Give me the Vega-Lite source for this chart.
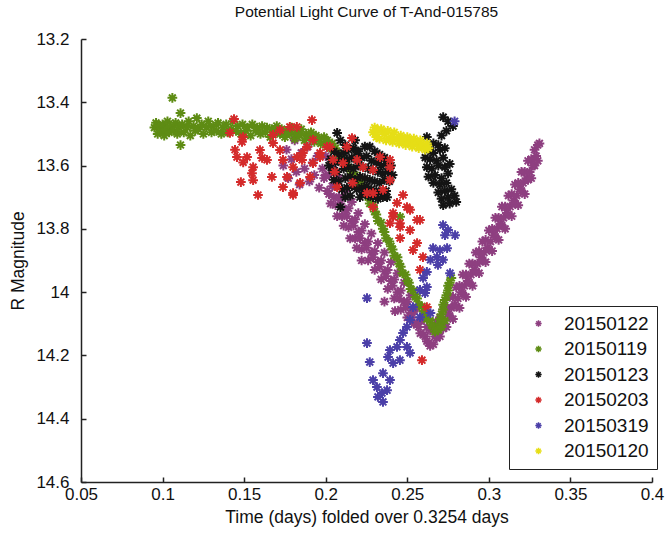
{
  "$schema": "https://vega.github.io/schema/vega-lite/v6.json",
  "width": 571,
  "height": 443,
  "autosize": {"type": "none"},
  "padding": {"left": 81, "top": 39, "right": 16, "bottom": 60},
  "background": "white",
  "title": {
    "text": "Potential Light Curve of T-And-015785",
    "fontSize": 15.5,
    "fontWeight": "normal",
    "font": "Liberation Sans",
    "color": "#111",
    "offset": 10
  },
  "config": {
    "view": {"stroke": null},
    "font": "Liberation Sans",
    "axis": {
      "grid": false,
      "domainColor": "#222",
      "domainWidth": 1.5,
      "tickColor": "#222",
      "tickWidth": 1.5,
      "tickSize": -5,
      "labelColor": "#111",
      "labelFontSize": 17,
      "labelFlush": false,
      "labelOverlap": false,
      "titleColor": "#111",
      "titleFontSize": 17.5,
      "titleFontWeight": "normal"
    }
  },
  "data": {
    "values": [
      {"night": "20150122", "t": 0.174, "mag": 13.60},
      {"night": "20150122", "t": 0.176, "mag": 13.55},
      {"night": "20150122", "t": 0.177, "mag": 13.64},
      {"night": "20150122", "t": 0.179, "mag": 13.58},
      {"night": "20150122", "t": 0.181, "mag": 13.52},
      {"night": "20150122", "t": 0.182, "mag": 13.62},
      {"night": "20150122", "t": 0.184, "mag": 13.66},
      {"night": "20150122", "t": 0.185, "mag": 13.56},
      {"night": "20150122", "t": 0.187, "mag": 13.61},
      {"night": "20150122", "t": 0.189, "mag": 13.54},
      {"night": "20150122", "t": 0.190, "mag": 13.65},
      {"night": "20150122", "t": 0.192, "mag": 13.59},
      {"night": "20150122", "t": 0.193, "mag": 13.63},
      {"night": "20150122", "t": 0.195, "mag": 13.57},
      {"night": "20150122", "t": 0.196, "mag": 13.67},
      {"night": "20150122", "t": 0.198, "mag": 13.61},
      {"night": "20150122", "t": 0.199, "mag": 13.64},
      {"night": "20150122", "t": 0.200, "mag": 13.57},
      {"night": "20150122", "t": 0.200, "mag": 13.63},
      {"night": "20150122", "t": 0.201, "mag": 13.68},
      {"night": "20150122", "t": 0.202, "mag": 13.63},
      {"night": "20150122", "t": 0.202, "mag": 13.69},
      {"night": "20150122", "t": 0.203, "mag": 13.72},
      {"night": "20150122", "t": 0.204, "mag": 13.605},
      {"night": "20150122", "t": 0.204, "mag": 13.665},
      {"night": "20150122", "t": 0.205, "mag": 13.70},
      {"night": "20150122", "t": 0.206, "mag": 13.665},
      {"night": "20150122", "t": 0.206, "mag": 13.725},
      {"night": "20150122", "t": 0.207, "mag": 13.76},
      {"night": "20150122", "t": 0.208, "mag": 13.64},
      {"night": "20150122", "t": 0.208, "mag": 13.70},
      {"night": "20150122", "t": 0.209, "mag": 13.72},
      {"night": "20150122", "t": 0.210, "mag": 13.70},
      {"night": "20150122", "t": 0.210, "mag": 13.76},
      {"night": "20150122", "t": 0.211, "mag": 13.79},
      {"night": "20150122", "t": 0.212, "mag": 13.68},
      {"night": "20150122", "t": 0.212, "mag": 13.74},
      {"night": "20150122", "t": 0.213, "mag": 13.76},
      {"night": "20150122", "t": 0.214, "mag": 13.735},
      {"night": "20150122", "t": 0.214, "mag": 13.795},
      {"night": "20150122", "t": 0.215, "mag": 13.83},
      {"night": "20150122", "t": 0.216, "mag": 13.715},
      {"night": "20150122", "t": 0.216, "mag": 13.775},
      {"night": "20150122", "t": 0.217, "mag": 13.79},
      {"night": "20150122", "t": 0.218, "mag": 13.77},
      {"night": "20150122", "t": 0.218, "mag": 13.83},
      {"night": "20150122", "t": 0.219, "mag": 13.86},
      {"night": "20150122", "t": 0.220, "mag": 13.75},
      {"night": "20150122", "t": 0.220, "mag": 13.81},
      {"night": "20150122", "t": 0.221, "mag": 13.83},
      {"night": "20150122", "t": 0.222, "mag": 13.805},
      {"night": "20150122", "t": 0.222, "mag": 13.865},
      {"night": "20150122", "t": 0.222, "mag": 13.90},
      {"night": "20150122", "t": 0.224, "mag": 13.785},
      {"night": "20150122", "t": 0.224, "mag": 13.845},
      {"night": "20150122", "t": 0.225, "mag": 13.86},
      {"night": "20150122", "t": 0.226, "mag": 13.84},
      {"night": "20150122", "t": 0.226, "mag": 13.90},
      {"night": "20150122", "t": 0.228, "mag": 13.815},
      {"night": "20150122", "t": 0.228, "mag": 13.875},
      {"night": "20150122", "t": 0.229, "mag": 13.89},
      {"night": "20150122", "t": 0.230, "mag": 13.87},
      {"night": "20150122", "t": 0.230, "mag": 13.93},
      {"night": "20150122", "t": 0.232, "mag": 13.845},
      {"night": "20150122", "t": 0.232, "mag": 13.905},
      {"night": "20150122", "t": 0.233, "mag": 13.92},
      {"night": "20150122", "t": 0.234, "mag": 13.90},
      {"night": "20150122", "t": 0.234, "mag": 13.96},
      {"night": "20150122", "t": 0.236, "mag": 13.875},
      {"night": "20150122", "t": 0.236, "mag": 13.935},
      {"night": "20150122", "t": 0.236, "mag": 14.03},
      {"night": "20150122", "t": 0.237, "mag": 13.95},
      {"night": "20150122", "t": 0.238, "mag": 13.93},
      {"night": "20150122", "t": 0.238, "mag": 13.99},
      {"night": "20150122", "t": 0.240, "mag": 13.905},
      {"night": "20150122", "t": 0.240, "mag": 13.965},
      {"night": "20150122", "t": 0.241, "mag": 13.98},
      {"night": "20150122", "t": 0.242, "mag": 13.96},
      {"night": "20150122", "t": 0.242, "mag": 14.02},
      {"night": "20150122", "t": 0.2425, "mag": 14.06},
      {"night": "20150122", "t": 0.244, "mag": 13.94},
      {"night": "20150122", "t": 0.244, "mag": 14.00},
      {"night": "20150122", "t": 0.245, "mag": 14.02},
      {"night": "20150122", "t": 0.246, "mag": 13.995},
      {"night": "20150122", "t": 0.246, "mag": 14.055},
      {"night": "20150122", "t": 0.248, "mag": 13.97},
      {"night": "20150122", "t": 0.248, "mag": 14.03},
      {"night": "20150122", "t": 0.249, "mag": 14.05},
      {"night": "20150122", "t": 0.250, "mag": 14.03},
      {"night": "20150122", "t": 0.250, "mag": 14.08},
      {"night": "20150122", "t": 0.252, "mag": 14.01},
      {"night": "20150122", "t": 0.252, "mag": 14.065},
      {"night": "20150122", "t": 0.253, "mag": 14.08},
      {"night": "20150122", "t": 0.254, "mag": 14.06},
      {"night": "20150122", "t": 0.254, "mag": 14.10},
      {"night": "20150122", "t": 0.256, "mag": 14.05},
      {"night": "20150122", "t": 0.256, "mag": 14.10},
      {"night": "20150122", "t": 0.257, "mag": 14.11},
      {"night": "20150122", "t": 0.258, "mag": 14.09},
      {"night": "20150122", "t": 0.258, "mag": 14.13},
      {"night": "20150122", "t": 0.260, "mag": 14.085},
      {"night": "20150122", "t": 0.260, "mag": 14.135},
      {"night": "20150122", "t": 0.261, "mag": 14.14},
      {"night": "20150122", "t": 0.262, "mag": 14.11},
      {"night": "20150122", "t": 0.262, "mag": 14.155},
      {"night": "20150122", "t": 0.263, "mag": 14.16},
      {"night": "20150122", "t": 0.264, "mag": 14.12},
      {"night": "20150122", "t": 0.264, "mag": 14.17},
      {"night": "20150122", "t": 0.266, "mag": 14.12},
      {"night": "20150122", "t": 0.266, "mag": 14.165},
      {"night": "20150122", "t": 0.267, "mag": 14.14},
      {"night": "20150122", "t": 0.268, "mag": 14.095},
      {"night": "20150122", "t": 0.268, "mag": 14.145},
      {"night": "20150122", "t": 0.269, "mag": 14.12},
      {"night": "20150122", "t": 0.270, "mag": 14.08},
      {"night": "20150122", "t": 0.270, "mag": 14.14},
      {"night": "20150122", "t": 0.271, "mag": 14.105},
      {"night": "20150122", "t": 0.272, "mag": 14.055},
      {"night": "20150122", "t": 0.272, "mag": 14.115},
      {"night": "20150122", "t": 0.273, "mag": 14.09},
      {"night": "20150122", "t": 0.274, "mag": 14.05},
      {"night": "20150122", "t": 0.274, "mag": 14.11},
      {"night": "20150122", "t": 0.275, "mag": 14.07},
      {"night": "20150122", "t": 0.276, "mag": 14.015},
      {"night": "20150122", "t": 0.276, "mag": 14.075},
      {"night": "20150122", "t": 0.277, "mag": 14.05},
      {"night": "20150122", "t": 0.278, "mag": 14.015},
      {"night": "20150122", "t": 0.278, "mag": 14.085},
      {"night": "20150122", "t": 0.279, "mag": 14.04},
      {"night": "20150122", "t": 0.280, "mag": 13.985},
      {"night": "20150122", "t": 0.280, "mag": 14.045},
      {"night": "20150122", "t": 0.281, "mag": 14.02},
      {"night": "20150122", "t": 0.282, "mag": 13.98},
      {"night": "20150122", "t": 0.282, "mag": 14.05},
      {"night": "20150122", "t": 0.283, "mag": 14.00},
      {"night": "20150122", "t": 0.284, "mag": 13.945},
      {"night": "20150122", "t": 0.284, "mag": 14.005},
      {"night": "20150122", "t": 0.285, "mag": 13.98},
      {"night": "20150122", "t": 0.286, "mag": 13.945},
      {"night": "20150122", "t": 0.286, "mag": 14.015},
      {"night": "20150122", "t": 0.287, "mag": 13.965},
      {"night": "20150122", "t": 0.288, "mag": 13.91},
      {"night": "20150122", "t": 0.288, "mag": 13.97},
      {"night": "20150122", "t": 0.289, "mag": 13.945},
      {"night": "20150122", "t": 0.290, "mag": 13.91},
      {"night": "20150122", "t": 0.290, "mag": 13.98},
      {"night": "20150122", "t": 0.291, "mag": 13.93},
      {"night": "20150122", "t": 0.292, "mag": 13.875},
      {"night": "20150122", "t": 0.292, "mag": 13.935},
      {"night": "20150122", "t": 0.293, "mag": 13.91},
      {"night": "20150122", "t": 0.294, "mag": 13.87},
      {"night": "20150122", "t": 0.294, "mag": 13.94},
      {"night": "20150122", "t": 0.295, "mag": 13.89},
      {"night": "20150122", "t": 0.296, "mag": 13.84},
      {"night": "20150122", "t": 0.296, "mag": 13.90},
      {"night": "20150122", "t": 0.297, "mag": 13.875},
      {"night": "20150122", "t": 0.298, "mag": 13.835},
      {"night": "20150122", "t": 0.298, "mag": 13.905},
      {"night": "20150122", "t": 0.299, "mag": 13.86},
      {"night": "20150122", "t": 0.300, "mag": 13.805},
      {"night": "20150122", "t": 0.300, "mag": 13.865},
      {"night": "20150122", "t": 0.301, "mag": 13.84},
      {"night": "20150122", "t": 0.302, "mag": 13.80},
      {"night": "20150122", "t": 0.302, "mag": 13.87},
      {"night": "20150122", "t": 0.303, "mag": 13.82},
      {"night": "20150122", "t": 0.304, "mag": 13.765},
      {"night": "20150122", "t": 0.304, "mag": 13.825},
      {"night": "20150122", "t": 0.305, "mag": 13.80},
      {"night": "20150122", "t": 0.306, "mag": 13.765},
      {"night": "20150122", "t": 0.306, "mag": 13.835},
      {"night": "20150122", "t": 0.307, "mag": 13.785},
      {"night": "20150122", "t": 0.308, "mag": 13.73},
      {"night": "20150122", "t": 0.308, "mag": 13.79},
      {"night": "20150122", "t": 0.309, "mag": 13.765},
      {"night": "20150122", "t": 0.310, "mag": 13.73},
      {"night": "20150122", "t": 0.310, "mag": 13.80},
      {"night": "20150122", "t": 0.311, "mag": 13.75},
      {"night": "20150122", "t": 0.312, "mag": 13.695},
      {"night": "20150122", "t": 0.312, "mag": 13.755},
      {"night": "20150122", "t": 0.313, "mag": 13.73},
      {"night": "20150122", "t": 0.314, "mag": 13.69},
      {"night": "20150122", "t": 0.314, "mag": 13.76},
      {"night": "20150122", "t": 0.315, "mag": 13.71},
      {"night": "20150122", "t": 0.316, "mag": 13.66},
      {"night": "20150122", "t": 0.316, "mag": 13.72},
      {"night": "20150122", "t": 0.317, "mag": 13.695},
      {"night": "20150122", "t": 0.318, "mag": 13.655},
      {"night": "20150122", "t": 0.318, "mag": 13.725},
      {"night": "20150122", "t": 0.319, "mag": 13.675},
      {"night": "20150122", "t": 0.320, "mag": 13.62},
      {"night": "20150122", "t": 0.320, "mag": 13.68},
      {"night": "20150122", "t": 0.321, "mag": 13.655},
      {"night": "20150122", "t": 0.322, "mag": 13.62},
      {"night": "20150122", "t": 0.322, "mag": 13.69},
      {"night": "20150122", "t": 0.323, "mag": 13.64},
      {"night": "20150122", "t": 0.324, "mag": 13.585},
      {"night": "20150122", "t": 0.324, "mag": 13.645},
      {"night": "20150122", "t": 0.325, "mag": 13.62},
      {"night": "20150122", "t": 0.326, "mag": 13.58},
      {"night": "20150122", "t": 0.326, "mag": 13.64},
      {"night": "20150122", "t": 0.327, "mag": 13.60},
      {"night": "20150122", "t": 0.328, "mag": 13.55},
      {"night": "20150122", "t": 0.328, "mag": 13.60},
      {"night": "20150122", "t": 0.329, "mag": 13.57},
      {"night": "20150122", "t": 0.330, "mag": 13.535},
      {"night": "20150122", "t": 0.330, "mag": 13.585},
      {"night": "20150122", "t": 0.331, "mag": 13.53},

      {"night": "20150119", "t": 0.095, "mag": 13.48},
      {"night": "20150119", "t": 0.096, "mag": 13.465},
      {"night": "20150119", "t": 0.097, "mag": 13.50},
      {"night": "20150119", "t": 0.098, "mag": 13.475},
      {"night": "20150119", "t": 0.099, "mag": 13.49},
      {"night": "20150119", "t": 0.100, "mag": 13.47},
      {"night": "20150119", "t": 0.101, "mag": 13.505},
      {"night": "20150119", "t": 0.102, "mag": 13.485},
      {"night": "20150119", "t": 0.103, "mag": 13.46},
      {"night": "20150119", "t": 0.104, "mag": 13.495},
      {"night": "20150119", "t": 0.105, "mag": 13.475},
      {"night": "20150119", "t": 0.106, "mag": 13.386},
      {"night": "20150119", "t": 0.107, "mag": 13.49},
      {"night": "20150119", "t": 0.108, "mag": 13.465},
      {"night": "20150119", "t": 0.109, "mag": 13.50},
      {"night": "20150119", "t": 0.110, "mag": 13.48},
      {"night": "20150119", "t": 0.111, "mag": 13.434},
      {"night": "20150119", "t": 0.111, "mag": 13.535},
      {"night": "20150119", "t": 0.112, "mag": 13.47},
      {"night": "20150119", "t": 0.113, "mag": 13.495},
      {"night": "20150119", "t": 0.115, "mag": 13.48},
      {"night": "20150119", "t": 0.116, "mag": 13.46},
      {"night": "20150119", "t": 0.117, "mag": 13.505},
      {"night": "20150119", "t": 0.119, "mag": 13.475},
      {"night": "20150119", "t": 0.120, "mag": 13.49},
      {"night": "20150119", "t": 0.121, "mag": 13.45},
      {"night": "20150119", "t": 0.122, "mag": 13.485},
      {"night": "20150119", "t": 0.124, "mag": 13.47},
      {"night": "20150119", "t": 0.125, "mag": 13.50},
      {"night": "20150119", "t": 0.127, "mag": 13.48},
      {"night": "20150119", "t": 0.128, "mag": 13.46},
      {"night": "20150119", "t": 0.130, "mag": 13.495},
      {"night": "20150119", "t": 0.131, "mag": 13.475},
      {"night": "20150119", "t": 0.133, "mag": 13.49},
      {"night": "20150119", "t": 0.134, "mag": 13.465},
      {"night": "20150119", "t": 0.136, "mag": 13.50},
      {"night": "20150119", "t": 0.137, "mag": 13.48},
      {"night": "20150119", "t": 0.139, "mag": 13.47},
      {"night": "20150119", "t": 0.140, "mag": 13.495},
      {"night": "20150119", "t": 0.142, "mag": 13.485},
      {"night": "20150119", "t": 0.143, "mag": 13.46},
      {"night": "20150119", "t": 0.145, "mag": 13.49},
      {"night": "20150119", "t": 0.146, "mag": 13.475},
      {"night": "20150119", "t": 0.148, "mag": 13.50},
      {"night": "20150119", "t": 0.149, "mag": 13.47},
      {"night": "20150119", "t": 0.151, "mag": 13.49},
      {"night": "20150119", "t": 0.152, "mag": 13.48},
      {"night": "20150119", "t": 0.154, "mag": 13.505},
      {"night": "20150119", "t": 0.155, "mag": 13.47},
      {"night": "20150119", "t": 0.157, "mag": 13.49},
      {"night": "20150119", "t": 0.158, "mag": 13.48},
      {"night": "20150119", "t": 0.160, "mag": 13.50},
      {"night": "20150119", "t": 0.161, "mag": 13.475},
      {"night": "20150119", "t": 0.163, "mag": 13.495},
      {"night": "20150119", "t": 0.164, "mag": 13.48},
      {"night": "20150119", "t": 0.166, "mag": 13.51},
      {"night": "20150119", "t": 0.167, "mag": 13.485},
      {"night": "20150119", "t": 0.169, "mag": 13.495},
      {"night": "20150119", "t": 0.170, "mag": 13.475},
      {"night": "20150119", "t": 0.172, "mag": 13.50},
      {"night": "20150119", "t": 0.173, "mag": 13.485},
      {"night": "20150119", "t": 0.175, "mag": 13.51},
      {"night": "20150119", "t": 0.176, "mag": 13.49},
      {"night": "20150119", "t": 0.178, "mag": 13.50},
      {"night": "20150119", "t": 0.179, "mag": 13.48},
      {"night": "20150119", "t": 0.181, "mag": 13.515},
      {"night": "20150119", "t": 0.182, "mag": 13.495},
      {"night": "20150119", "t": 0.184, "mag": 13.505},
      {"night": "20150119", "t": 0.185, "mag": 13.485},
      {"night": "20150119", "t": 0.187, "mag": 13.52},
      {"night": "20150119", "t": 0.188, "mag": 13.50},
      {"night": "20150119", "t": 0.190, "mag": 13.51},
      {"night": "20150119", "t": 0.191, "mag": 13.495},
      {"night": "20150119", "t": 0.193, "mag": 13.525},
      {"night": "20150119", "t": 0.194, "mag": 13.505},
      {"night": "20150119", "t": 0.196, "mag": 13.515},
      {"night": "20150119", "t": 0.197, "mag": 13.53},
      {"night": "20150119", "t": 0.199, "mag": 13.51},
      {"night": "20150119", "t": 0.200, "mag": 13.535},
      {"night": "20150119", "t": 0.201, "mag": 13.52},
      {"night": "20150119", "t": 0.203, "mag": 13.545},
      {"night": "20150119", "t": 0.204, "mag": 13.53},
      {"night": "20150119", "t": 0.206, "mag": 13.545},
      {"night": "20150119", "t": 0.207, "mag": 13.56},
      {"night": "20150119", "t": 0.209, "mag": 13.57},
      {"night": "20150119", "t": 0.210, "mag": 13.585},
      {"night": "20150119", "t": 0.212, "mag": 13.59},
      {"night": "20150119", "t": 0.213, "mag": 13.605},
      {"night": "20150119", "t": 0.215, "mag": 13.61},
      {"night": "20150119", "t": 0.216, "mag": 13.625},
      {"night": "20150119", "t": 0.218, "mag": 13.63},
      {"night": "20150119", "t": 0.219, "mag": 13.645},
      {"night": "20150119", "t": 0.221, "mag": 13.65},
      {"night": "20150119", "t": 0.222, "mag": 13.665},
      {"night": "20150119", "t": 0.224, "mag": 13.675},
      {"night": "20150119", "t": 0.225, "mag": 13.69},
      {"night": "20150119", "t": 0.226, "mag": 13.70},
      {"night": "20150119", "t": 0.227, "mag": 13.72},
      {"night": "20150119", "t": 0.229, "mag": 13.725},
      {"night": "20150119", "t": 0.230, "mag": 13.745},
      {"night": "20150119", "t": 0.231, "mag": 13.755},
      {"night": "20150119", "t": 0.232, "mag": 13.775},
      {"night": "20150119", "t": 0.234, "mag": 13.78},
      {"night": "20150119", "t": 0.235, "mag": 13.80},
      {"night": "20150119", "t": 0.236, "mag": 13.81},
      {"night": "20150119", "t": 0.237, "mag": 13.83},
      {"night": "20150119", "t": 0.239, "mag": 13.84},
      {"night": "20150119", "t": 0.240, "mag": 13.855},
      {"night": "20150119", "t": 0.241, "mag": 13.865},
      {"night": "20150119", "t": 0.242, "mag": 13.885},
      {"night": "20150119", "t": 0.244, "mag": 13.89},
      {"night": "20150119", "t": 0.245, "mag": 13.91},
      {"night": "20150119", "t": 0.2456, "mag": 13.762},
      {"night": "20150119", "t": 0.246, "mag": 13.92},
      {"night": "20150119", "t": 0.247, "mag": 13.94},
      {"night": "20150119", "t": 0.249, "mag": 13.945},
      {"night": "20150119", "t": 0.250, "mag": 13.965},
      {"night": "20150119", "t": 0.251, "mag": 13.97},
      {"night": "20150119", "t": 0.252, "mag": 13.99},
      {"night": "20150119", "t": 0.254, "mag": 13.995},
      {"night": "20150119", "t": 0.255, "mag": 14.015},
      {"night": "20150119", "t": 0.256, "mag": 14.02},
      {"night": "20150119", "t": 0.257, "mag": 14.04},
      {"night": "20150119", "t": 0.259, "mag": 14.045},
      {"night": "20150119", "t": 0.260, "mag": 14.06},
      {"night": "20150119", "t": 0.261, "mag": 14.07},
      {"night": "20150119", "t": 0.262, "mag": 14.085},
      {"night": "20150119", "t": 0.264, "mag": 14.09},
      {"night": "20150119", "t": 0.265, "mag": 14.105},
      {"night": "20150119", "t": 0.266, "mag": 14.11},
      {"night": "20150119", "t": 0.267, "mag": 14.125},
      {"night": "20150119", "t": 0.268, "mag": 14.115},
      {"night": "20150119", "t": 0.269, "mag": 14.12},
      {"night": "20150119", "t": 0.270, "mag": 14.10},
      {"night": "20150119", "t": 0.271, "mag": 14.11},
      {"night": "20150119", "t": 0.270, "mag": 14.085},
      {"night": "20150119", "t": 0.273, "mag": 14.09},
      {"night": "20150119", "t": 0.271, "mag": 14.07},
      {"night": "20150119", "t": 0.272, "mag": 14.055},
      {"night": "20150119", "t": 0.272, "mag": 14.04},
      {"night": "20150119", "t": 0.273, "mag": 14.025},
      {"night": "20150119", "t": 0.274, "mag": 14.01},
      {"night": "20150119", "t": 0.275, "mag": 13.995},
      {"night": "20150119", "t": 0.275, "mag": 13.98},
      {"night": "20150119", "t": 0.276, "mag": 13.97},
      {"night": "20150119", "t": 0.277, "mag": 13.955},

      {"night": "20150123", "t": 0.207, "mag": 13.497},
      {"night": "20150123", "t": 0.209, "mag": 13.52},
      {"night": "20150123", "t": 0.212, "mag": 13.535},
      {"night": "20150123", "t": 0.218, "mag": 13.52},
      {"night": "20150123", "t": 0.205, "mag": 13.555},
      {"night": "20150123", "t": 0.208, "mag": 13.565},
      {"night": "20150123", "t": 0.211, "mag": 13.56},
      {"night": "20150123", "t": 0.214, "mag": 13.55},
      {"night": "20150123", "t": 0.217, "mag": 13.545},
      {"night": "20150123", "t": 0.219, "mag": 13.555},
      {"night": "20150123", "t": 0.220, "mag": 13.555},
      {"night": "20150123", "t": 0.224, "mag": 13.54},
      {"night": "20150123", "t": 0.227, "mag": 13.54},
      {"night": "20150123", "t": 0.230, "mag": 13.555},
      {"night": "20150123", "t": 0.233, "mag": 13.565},
      {"night": "20150123", "t": 0.236, "mag": 13.575},
      {"night": "20150123", "t": 0.202, "mag": 13.60},
      {"night": "20150123", "t": 0.203, "mag": 13.58},
      {"night": "20150123", "t": 0.206, "mag": 13.59},
      {"night": "20150123", "t": 0.210, "mag": 13.585},
      {"night": "20150123", "t": 0.213, "mag": 13.58},
      {"night": "20150123", "t": 0.216, "mag": 13.575},
      {"night": "20150123", "t": 0.219, "mag": 13.58},
      {"night": "20150123", "t": 0.222, "mag": 13.575},
      {"night": "20150123", "t": 0.225, "mag": 13.57},
      {"night": "20150123", "t": 0.228, "mag": 13.585},
      {"night": "20150123", "t": 0.231, "mag": 13.59},
      {"night": "20150123", "t": 0.234, "mag": 13.60},
      {"night": "20150123", "t": 0.237, "mag": 13.595},
      {"night": "20150123", "t": 0.240, "mag": 13.60},
      {"night": "20150123", "t": 0.204, "mag": 13.615},
      {"night": "20150123", "t": 0.207, "mag": 13.62},
      {"night": "20150123", "t": 0.211, "mag": 13.61},
      {"night": "20150123", "t": 0.214, "mag": 13.605},
      {"night": "20150123", "t": 0.217, "mag": 13.61},
      {"night": "20150123", "t": 0.220, "mag": 13.60},
      {"night": "20150123", "t": 0.223, "mag": 13.605},
      {"night": "20150123", "t": 0.226, "mag": 13.61},
      {"night": "20150123", "t": 0.229, "mag": 13.615},
      {"night": "20150123", "t": 0.232, "mag": 13.62},
      {"night": "20150123", "t": 0.235, "mag": 13.625},
      {"night": "20150123", "t": 0.238, "mag": 13.62},
      {"night": "20150123", "t": 0.241, "mag": 13.63},
      {"night": "20150123", "t": 0.205, "mag": 13.645},
      {"night": "20150123", "t": 0.208, "mag": 13.65},
      {"night": "20150123", "t": 0.212, "mag": 13.64},
      {"night": "20150123", "t": 0.215, "mag": 13.635},
      {"night": "20150123", "t": 0.218, "mag": 13.645},
      {"night": "20150123", "t": 0.221, "mag": 13.635},
      {"night": "20150123", "t": 0.224, "mag": 13.64},
      {"night": "20150123", "t": 0.227, "mag": 13.645},
      {"night": "20150123", "t": 0.230, "mag": 13.65},
      {"night": "20150123", "t": 0.233, "mag": 13.655},
      {"night": "20150123", "t": 0.236, "mag": 13.645},
      {"night": "20150123", "t": 0.239, "mag": 13.65},
      {"night": "20150123", "t": 0.210, "mag": 13.675},
      {"night": "20150123", "t": 0.213, "mag": 13.67},
      {"night": "20150123", "t": 0.216, "mag": 13.665},
      {"night": "20150123", "t": 0.219, "mag": 13.675},
      {"night": "20150123", "t": 0.222, "mag": 13.67},
      {"night": "20150123", "t": 0.223, "mag": 13.685},
      {"night": "20150123", "t": 0.225, "mag": 13.665},
      {"night": "20150123", "t": 0.228, "mag": 13.675},
      {"night": "20150123", "t": 0.231, "mag": 13.68},
      {"night": "20150123", "t": 0.234, "mag": 13.685},
      {"night": "20150123", "t": 0.237, "mag": 13.68},
      {"night": "20150123", "t": 0.212, "mag": 13.70},
      {"night": "20150123", "t": 0.215, "mag": 13.695},
      {"night": "20150123", "t": 0.221, "mag": 13.70},
      {"night": "20150123", "t": 0.226, "mag": 13.695},
      {"night": "20150123", "t": 0.229, "mag": 13.70},
      {"night": "20150123", "t": 0.232, "mag": 13.705},
      {"night": "20150123", "t": 0.235, "mag": 13.70},
      {"night": "20150123", "t": 0.209, "mag": 13.731},
      {"night": "20150123", "t": 0.2376, "mag": 13.70},
      {"night": "20150123", "t": 0.262, "mag": 13.51},
      {"night": "20150123", "t": 0.272, "mag": 13.447},
      {"night": "20150123", "t": 0.275, "mag": 13.46},
      {"night": "20150123", "t": 0.278, "mag": 13.475},
      {"night": "20150123", "t": 0.274, "mag": 13.49},
      {"night": "20150123", "t": 0.271, "mag": 13.505},
      {"night": "20150123", "t": 0.266, "mag": 13.53},
      {"night": "20150123", "t": 0.269, "mag": 13.535},
      {"night": "20150123", "t": 0.263, "mag": 13.55},
      {"night": "20150123", "t": 0.266, "mag": 13.56},
      {"night": "20150123", "t": 0.270, "mag": 13.55},
      {"night": "20150123", "t": 0.273, "mag": 13.545},
      {"night": "20150123", "t": 0.261, "mag": 13.575},
      {"night": "20150123", "t": 0.264, "mag": 13.58},
      {"night": "20150123", "t": 0.268, "mag": 13.585},
      {"night": "20150123", "t": 0.272, "mag": 13.575},
      {"night": "20150123", "t": 0.262, "mag": 13.605},
      {"night": "20150123", "t": 0.265, "mag": 13.61},
      {"night": "20150123", "t": 0.269, "mag": 13.60},
      {"night": "20150123", "t": 0.273, "mag": 13.605},
      {"night": "20150123", "t": 0.276, "mag": 13.595},
      {"night": "20150123", "t": 0.263, "mag": 13.635},
      {"night": "20150123", "t": 0.267, "mag": 13.63},
      {"night": "20150123", "t": 0.271, "mag": 13.64},
      {"night": "20150123", "t": 0.275, "mag": 13.625},
      {"night": "20150123", "t": 0.266, "mag": 13.655},
      {"night": "20150123", "t": 0.270, "mag": 13.66},
      {"night": "20150123", "t": 0.274, "mag": 13.655},
      {"night": "20150123", "t": 0.269, "mag": 13.685},
      {"night": "20150123", "t": 0.273, "mag": 13.68},
      {"night": "20150123", "t": 0.277, "mag": 13.675},
      {"night": "20150123", "t": 0.271, "mag": 13.705},
      {"night": "20150123", "t": 0.275, "mag": 13.70},
      {"night": "20150123", "t": 0.279, "mag": 13.695},
      {"night": "20150123", "t": 0.272, "mag": 13.725},
      {"night": "20150123", "t": 0.276, "mag": 13.72},
      {"night": "20150123", "t": 0.280, "mag": 13.715},

      {"night": "20150203", "t": 0.1438, "mag": 13.453},
      {"night": "20150203", "t": 0.1413, "mag": 13.497},
      {"night": "20150203", "t": 0.1493, "mag": 13.51},
      {"night": "20150203", "t": 0.1487, "mag": 13.525},
      {"night": "20150203", "t": 0.1444, "mag": 13.55},
      {"night": "20150203", "t": 0.1456, "mag": 13.573},
      {"night": "20150203", "t": 0.1518, "mag": 13.573},
      {"night": "20150203", "t": 0.1494, "mag": 13.59},
      {"night": "20150203", "t": 0.1555, "mag": 13.605},
      {"night": "20150203", "t": 0.1548, "mag": 13.624},
      {"night": "20150203", "t": 0.1597, "mag": 13.551},
      {"night": "20150203", "t": 0.161, "mag": 13.576},
      {"night": "20150203", "t": 0.164, "mag": 13.582},
      {"night": "20150203", "t": 0.167, "mag": 13.636},
      {"night": "20150203", "t": 0.1555, "mag": 13.646},
      {"night": "20150203", "t": 0.148, "mag": 13.652},
      {"night": "20150203", "t": 0.1585, "mag": 13.693},
      {"night": "20150203", "t": 0.1677, "mag": 13.529},
      {"night": "20150203", "t": 0.1677, "mag": 13.503},
      {"night": "20150203", "t": 0.172, "mag": 13.488},
      {"night": "20150203", "t": 0.178, "mag": 13.478},
      {"night": "20150203", "t": 0.1823, "mag": 13.478},
      {"night": "20150203", "t": 0.1916, "mag": 13.456},
      {"night": "20150203", "t": 0.172, "mag": 13.551},
      {"night": "20150203", "t": 0.1738, "mag": 13.582},
      {"night": "20150203", "t": 0.180, "mag": 13.605},
      {"night": "20150203", "t": 0.1738, "mag": 13.668},
      {"night": "20150203", "t": 0.180, "mag": 13.693},
      {"night": "20150203", "t": 0.1843, "mag": 13.655},
      {"night": "20150203", "t": 0.1904, "mag": 13.636},
      {"night": "20150203", "t": 0.1922, "mag": 13.592},
      {"night": "20150203", "t": 0.1965, "mag": 13.56},
      {"night": "20150203", "t": 0.1885, "mag": 13.541},
      {"night": "20150203", "t": 0.2008, "mag": 13.541},
      {"night": "20150203", "t": 0.1824, "mag": 13.573},
      {"night": "20150203", "t": 0.1922, "mag": 13.519},
      {"night": "20150203", "t": 0.1763, "mag": 13.636},
      {"night": "20150203", "t": 0.1855, "mag": 13.582},
      {"night": "20150203", "t": 0.186, "mag": 13.56},
      {"night": "20150203", "t": 0.1965, "mag": 13.573},
      {"night": "20150203", "t": 0.180, "mag": 13.687},
      {"night": "20150203", "t": 0.2026, "mag": 13.541},
      {"night": "20150203", "t": 0.2045, "mag": 13.582},
      {"night": "20150203", "t": 0.2106, "mag": 13.592},
      {"night": "20150203", "t": 0.2161, "mag": 13.513},
      {"night": "20150203", "t": 0.213, "mag": 13.541},
      {"night": "20150203", "t": 0.2192, "mag": 13.582},
      {"night": "20150203", "t": 0.2229, "mag": 13.605},
      {"night": "20150203", "t": 0.229, "mag": 13.614},
      {"night": "20150203", "t": 0.2333, "mag": 13.573},
      {"night": "20150203", "t": 0.2394, "mag": 13.582},
      {"night": "20150203", "t": 0.2394, "mag": 13.646},
      {"night": "20150203", "t": 0.2351, "mag": 13.677},
      {"night": "20150203", "t": 0.2253, "mag": 13.687},
      {"night": "20150203", "t": 0.229, "mag": 13.731},
      {"night": "20150203", "t": 0.2394, "mag": 13.605},
      {"night": "20150203", "t": 0.2474, "mag": 13.693},
      {"night": "20150203", "t": 0.2437, "mag": 13.718},
      {"night": "20150203", "t": 0.2498, "mag": 13.731},
      {"night": "20150203", "t": 0.256, "mag": 13.772},
      {"night": "20150203", "t": 0.2413, "mag": 13.75},
      {"night": "20150203", "t": 0.2455, "mag": 13.782},
      {"night": "20150203", "t": 0.2517, "mag": 13.74},
      {"night": "20150203", "t": 0.2413, "mag": 13.762},
      {"night": "20150203", "t": 0.2578, "mag": 13.772},
      {"night": "20150203", "t": 0.2456, "mag": 13.794},
      {"night": "20150203", "t": 0.2517, "mag": 13.804},
      {"night": "20150203", "t": 0.2394, "mag": 13.782},
      {"night": "20150203", "t": 0.2456, "mag": 13.829},
      {"night": "20150203", "t": 0.256, "mag": 13.845},
      {"night": "20150203", "t": 0.2535, "mag": 13.867},
      {"night": "20150203", "t": 0.2596, "mag": 13.889},
      {"night": "20150203", "t": 0.2578, "mag": 13.93},
      {"night": "20150203", "t": 0.262, "mag": 14.047},
      {"night": "20150203", "t": 0.259, "mag": 14.215},
      {"night": "20150203", "t": 0.229, "mag": 13.687},
      {"night": "20150203", "t": 0.207, "mag": 13.668},
      {"night": "20150203", "t": 0.2055, "mag": 13.62},
      {"night": "20150203", "t": 0.2165, "mag": 13.655},

      {"night": "20150319", "t": 0.279, "mag": 13.46},
      {"night": "20150319", "t": 0.2719, "mag": 13.788},
      {"night": "20150319", "t": 0.275, "mag": 13.804},
      {"night": "20150319", "t": 0.2793, "mag": 13.82},
      {"night": "20150319", "t": 0.2731, "mag": 13.82},
      {"night": "20150319", "t": 0.2658, "mag": 13.861},
      {"night": "20150319", "t": 0.270, "mag": 13.867},
      {"night": "20150319", "t": 0.2744, "mag": 13.861},
      {"night": "20150319", "t": 0.2682, "mag": 13.889},
      {"night": "20150319", "t": 0.2719, "mag": 13.898},
      {"night": "20150319", "t": 0.2642, "mag": 13.898},
      {"night": "20150319", "t": 0.2688, "mag": 13.914},
      {"night": "20150319", "t": 0.2762, "mag": 13.94},
      {"night": "20150319", "t": 0.262, "mag": 13.936},
      {"night": "20150319", "t": 0.2597, "mag": 13.955},
      {"night": "20150319", "t": 0.262, "mag": 13.984},
      {"night": "20150319", "t": 0.2578, "mag": 13.993},
      {"night": "20150319", "t": 0.2609, "mag": 14.003},
      {"night": "20150319", "t": 0.2253, "mag": 14.019},
      {"night": "20150319", "t": 0.2642, "mag": 14.066},
      {"night": "20150319", "t": 0.2535, "mag": 14.047},
      {"night": "20150319", "t": 0.2578, "mag": 14.079},
      {"night": "20150319", "t": 0.2517, "mag": 14.088},
      {"night": "20150319", "t": 0.2498, "mag": 14.11},
      {"night": "20150319", "t": 0.2474, "mag": 14.129},
      {"night": "20150319", "t": 0.2455, "mag": 14.151},
      {"night": "20150319", "t": 0.2498, "mag": 14.173},
      {"night": "20150319", "t": 0.2517, "mag": 14.192},
      {"night": "20150319", "t": 0.2437, "mag": 14.173},
      {"night": "20150319", "t": 0.2394, "mag": 14.183},
      {"night": "20150319", "t": 0.2382, "mag": 14.205},
      {"night": "20150319", "t": 0.2455, "mag": 14.215},
      {"night": "20150319", "t": 0.2413, "mag": 14.224},
      {"night": "20150319", "t": 0.2253, "mag": 14.161},
      {"night": "20150319", "t": 0.227, "mag": 14.221},
      {"night": "20150319", "t": 0.2351, "mag": 14.256},
      {"night": "20150319", "t": 0.2394, "mag": 14.278},
      {"night": "20150319", "t": 0.229, "mag": 14.278},
      {"night": "20150319", "t": 0.2314, "mag": 14.30},
      {"night": "20150319", "t": 0.2345, "mag": 14.319},
      {"night": "20150319", "t": 0.2351, "mag": 14.347},
      {"night": "20150319", "t": 0.232, "mag": 14.331},
      {"night": "20150319", "t": 0.2376, "mag": 14.31},

      {"night": "20150120", "t": 0.229, "mag": 13.495},
      {"night": "20150120", "t": 0.230, "mag": 13.48},
      {"night": "20150120", "t": 0.231, "mag": 13.51},
      {"night": "20150120", "t": 0.232, "mag": 13.49},
      {"night": "20150120", "t": 0.233, "mag": 13.515},
      {"night": "20150120", "t": 0.234, "mag": 13.485},
      {"night": "20150120", "t": 0.236, "mag": 13.50},
      {"night": "20150120", "t": 0.237, "mag": 13.52},
      {"night": "20150120", "t": 0.238, "mag": 13.49},
      {"night": "20150120", "t": 0.240, "mag": 13.51},
      {"night": "20150120", "t": 0.241, "mag": 13.525},
      {"night": "20150120", "t": 0.242, "mag": 13.495},
      {"night": "20150120", "t": 0.244, "mag": 13.515},
      {"night": "20150120", "t": 0.245, "mag": 13.53},
      {"night": "20150120", "t": 0.246, "mag": 13.505},
      {"night": "20150120", "t": 0.248, "mag": 13.52},
      {"night": "20150120", "t": 0.249, "mag": 13.535},
      {"night": "20150120", "t": 0.250, "mag": 13.51},
      {"night": "20150120", "t": 0.252, "mag": 13.525},
      {"night": "20150120", "t": 0.253, "mag": 13.54},
      {"night": "20150120", "t": 0.254, "mag": 13.515},
      {"night": "20150120", "t": 0.256, "mag": 13.53},
      {"night": "20150120", "t": 0.257, "mag": 13.545},
      {"night": "20150120", "t": 0.258, "mag": 13.52},
      {"night": "20150120", "t": 0.260, "mag": 13.535},
      {"night": "20150120", "t": 0.261, "mag": 13.55},
      {"night": "20150120", "t": 0.262, "mag": 13.53},
      {"night": "20150120", "t": 0.263, "mag": 13.545}
    ]
  },
  "mark": {
    "type": "point",
    "shape": "M-1,0L1,0M0,-1L0,1M-0.7,-0.7L0.7,0.7M-0.7,0.7L0.7,-0.7",
    "filled": false,
    "size": 95,
    "strokeWidth": 2,
    "opacity": 1
  },
  "encoding": {
    "x": {
      "field": "t",
      "type": "quantitative",
      "scale": {"domain": [0.05, 0.4], "nice": false, "zero": false},
      "axis": {
        "title": "Time (days) folded over 0.3254 days",
        "values": [0.05, 0.1, 0.15, 0.2, 0.25, 0.3, 0.35, 0.4],
        "format": ".2~f",
        "labelPadding": 9,
        "titlePadding": 6
      }
    },
    "y": {
      "field": "mag",
      "type": "quantitative",
      "scale": {"domain": [13.2, 14.6], "reverse": true, "nice": false, "zero": false},
      "axis": {
        "title": "R Magnitude",
        "values": [13.2, 13.4, 13.6, 13.8, 14, 14.2, 14.4, 14.6],
        "format": ".2~f",
        "labelPadding": 17,
        "titlePadding": 8
      }
    },
    "color": {
      "field": "night",
      "type": "nominal",
      "scale": {
        "domain": ["20150122", "20150119", "20150123", "20150203", "20150319", "20150120"],
        "range": ["#8E3F80", "#5E8C14", "#141414", "#D42A2A", "#4B3FA8", "#E6DE16"]
      },
      "legend": {
        "title": null,
        "orient": "none",
        "legendX": 428,
        "legendY": 267,
        "direction": "vertical",
        "strokeColor": "#222",
        "fillColor": "white",
        "padding": 8,
        "cornerRadius": 0,
        "labelFontSize": 19,
        "labelColor": "#111",
        "labelOffset": 16,
        "rowPadding": 5.5,
        "symbolType": "M-1,0L1,0M0,-1L0,1M-0.7,-0.7L0.7,0.7M-0.7,0.7L0.7,-0.7",
        "symbolSize": 40,
        "symbolStrokeWidth": 1.5,
        "symbolOffset": 12,
        "symbolFillColor": "transparent",
        "encode": {
          "legend": {"update": {"strokeWidth": {"value": 1.5}}}
        }
      }
    }
  }
}
